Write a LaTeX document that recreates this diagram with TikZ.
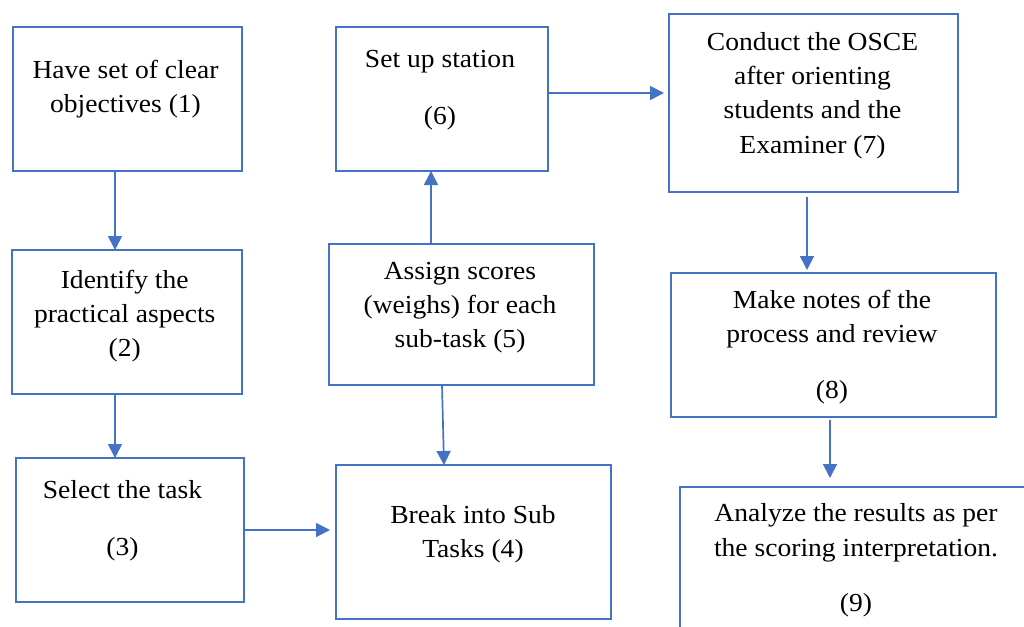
\documentclass[tikz,border=0pt]{standalone}
\usepackage{fontspec}
\setmainfont{Liberation Serif}[FakeStretch=1.06]
\usetikzlibrary{arrows.meta}
\definecolor{wordblue}{HTML}{4472C4}
\begin{document}
\begin{tikzpicture}[x=1pt,y=-1pt,
  box/.style={draw=wordblue,line width=1.8pt,inner sep=0pt,outer sep=0pt,rectangle},
  txt/.style={align=center,inner sep=0pt,font=\fontsize{26}{34.3}\selectfont},
  arr/.style={draw=wordblue,line width=1.7pt,-{Triangle[length=14pt,width=14pt]}}]
\useasboundingbox (0,0) rectangle (1024,626);
\clip (0,0) rectangle (1024,626);
\fill[white] (0,0) rectangle (1024,626);
% boxes
\node[box,minimum width=229pt,minimum height=144pt] (b1) at (127.5,99) {};
\node[box,minimum width=230pt,minimum height=144pt] (b2) at (127,322) {};
\node[box,minimum width=228pt,minimum height=144pt] (b3) at (130,530) {};
\node[box,minimum width=275pt,minimum height=154pt] (b4) at (473.5,542) {};
\node[box,minimum width=265pt,minimum height=141pt] (b5) at (461.5,314.5) {};
\node[box,minimum width=212pt,minimum height=144pt] (b6) at (442,99) {};
\node[box,minimum width=289pt,minimum height=178pt] (b7) at (813.5,103) {};
\node[box,minimum width=325pt,minimum height=144pt] (b8) at (833.5,345) {};
\node[box,minimum width=352pt,minimum height=193pt] (b9) at (856,583.5) {};
% texts
\node[txt] (t1) at (125.5,89) {Have set of clear\\objectives (1)};
\node[txt] (t2) at (124.7,316) {Identify the\\practical aspects\\(2)};
\node[txt] (t3) at (122.5,520.5) {Select the task\\[23pt](3)};
\node[txt] (t4) at (473,534) {Break into Sub\\Tasks (4)};
\node[txt] (t5) at (460,307.5) {Assign scores\\(weighs) for each\\sub-task (5)};
\node[txt] (t6) at (440,90.5) {Set up station\\[23pt](6)};
\node[txt] (t7) at (812.5,95.5) {Conduct the OSCE\\after orienting\\students and the\\Examiner (7)};
\node[txt] (t8) at (832,347) {Make notes of the\\process and review\\[22pt](8)};
\node[txt] (t9) at (856,560.5) {Analyze the results as per\\the scoring interpretation.\\[21pt](9)};
% connector helpers
\coordinate (x12) at (115,0);
\coordinate (x54a) at (442,0);
\coordinate (x54b) at (444,0);
\coordinate (x56) at (431,0);
\coordinate (y67) at (0,93);
\coordinate (x78) at (807,0);
\coordinate (x89) at (830,0);
% connectors
\draw[arr] (b1.south -| x12) -- (b2.north -| x12);
\draw[arr] (b2.south -| x12) -- (b3.north -| x12);
\draw[arr,shorten >=6pt] (b3.east) -- (b3.east -| b4.west);
\draw[arr] (b5.south -| x54a) -- (b4.north -| x54b);
\draw[arr] (b5.north -| x56) -- (b6.south -| x56);
\draw[arr,shorten >=5pt] (b6.east |- y67) -- (b7.west |- y67);
\draw[arr,shorten <=5pt,shorten >=3pt] (b7.south -| x78) -- (b8.north -| x78);
\draw[arr,shorten <=3pt,shorten >=9pt] (b8.south -| x89) -- (b9.north -| x89);
\end{tikzpicture}
\end{document}
